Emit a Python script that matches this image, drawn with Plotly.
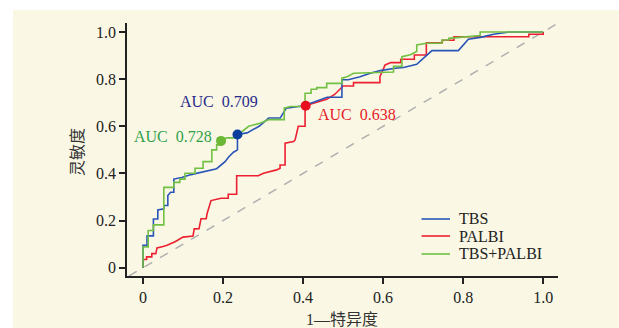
import plotly.graph_objects as go

# ---- data ----
tbs_fpr = [0, 0, 0.01, 0.01, 0.026, 0.026, 0.037, 0.037, 0.052, 0.052, 0.062, 0.062, 0.069, 0.077, 0.077,
           0.097, 0.12, 0.155, 0.184, 0.205, 0.214, 0.226, 0.234, 0.236, 0.236, 0.26, 0.29, 0.314, 0.343,
           0.358, 0.402, 0.432, 0.46, 0.497, 0.497, 0.513, 0.5425, 0.5675, 0.5925, 0.63, 0.651, 0.684,
           0.722, 0.788, 0.813, 0.843, 0.876, 0.915, 1.0]
tbs_tpr = [0, 0.095, 0.095, 0.135, 0.135, 0.207, 0.207, 0.245, 0.25, 0.264, 0.264, 0.306, 0.32, 0.32, 0.376,
           0.383, 0.395, 0.41, 0.42, 0.45, 0.47, 0.49, 0.5, 0.5, 0.565, 0.572, 0.6, 0.635, 0.635,
           0.677, 0.687, 0.705, 0.723, 0.723, 0.797, 0.797, 0.81, 0.825, 0.836, 0.846, 0.849, 0.863,
           0.921, 0.921, 0.969, 0.977, 0.99, 1.0, 1.0]

palbi_fpr = [0, 0, 0.009, 0.009, 0.022, 0.022, 0.032, 0.035, 0.05, 0.06, 0.08, 0.1, 0.125, 0.128, 0.14,
             0.145, 0.158, 0.16, 0.17, 0.195, 0.213, 0.213, 0.234, 0.234, 0.288, 0.301, 0.334, 0.3425,
             0.3425, 0.355, 0.355, 0.376, 0.38, 0.388, 0.405, 0.405, 0.432, 0.459, 0.479, 0.50, 0.526,
             0.526, 0.592, 0.592, 0.605, 0.619, 0.644, 0.644, 0.678, 0.678, 0.708, 0.708, 0.748, 0.748,
             0.777, 0.777, 0.964, 0.964, 1.0, 1.0]
palbi_tpr = [0, 0.035, 0.035, 0.046, 0.046, 0.06, 0.06, 0.084, 0.09, 0.095, 0.11, 0.13, 0.135, 0.165, 0.166,
             0.208, 0.208, 0.229, 0.285, 0.295, 0.295, 0.312, 0.312, 0.39, 0.39, 0.401, 0.415, 0.422,
             0.436, 0.436, 0.528, 0.535, 0.542, 0.6, 0.6, 0.687, 0.701, 0.715, 0.735, 0.771, 0.771,
             0.785, 0.785, 0.81, 0.86, 0.87, 0.87, 0.884, 0.884, 0.902, 0.902, 0.954, 0.954, 0.965,
             0.965, 0.98, 0.98, 0.99, 0.99, 1.0]

comb_fpr = [0, 0, 0.013, 0.013, 0.026, 0.026, 0.052, 0.052, 0.077, 0.077, 0.092, 0.092, 0.105, 0.105,
            0.13, 0.13, 0.15, 0.15, 0.172, 0.172, 0.184, 0.184, 0.197, 0.197, 0.21, 0.23, 0.235, 0.264,
            0.294, 0.314, 0.353, 0.353, 0.368, 0.405, 0.405, 0.42, 0.42, 0.434, 0.434, 0.459, 0.459,
            0.497, 0.497, 0.51, 0.526, 0.626, 0.626, 0.647, 0.647, 0.668, 0.684, 0.684, 0.709, 0.747,
            0.747, 0.764, 0.764, 0.8425, 0.8425, 1.0]
comb_tpr = [0, 0.088, 0.088, 0.158, 0.158, 0.182, 0.182, 0.341, 0.341, 0.362, 0.362, 0.376, 0.376, 0.401,
            0.401, 0.422, 0.422, 0.45, 0.45, 0.5, 0.5, 0.521, 0.521, 0.538, 0.551, 0.551, 0.56, 0.6,
            0.614, 0.628, 0.628, 0.677, 0.684, 0.684, 0.74, 0.74, 0.757, 0.757, 0.764, 0.764, 0.782,
            0.782, 0.804, 0.81, 0.825, 0.83, 0.854, 0.854, 0.895, 0.903, 0.917, 0.945, 0.952, 0.952,
            0.966, 0.966, 0.973, 0.985, 1.0, 1.0]

# optimal cut-off points
cut_x = [0.236, 0.4065, 0.195]
cut_y = [0.565, 0.687, 0.538]
auc_labels = ["AUC\u00a0\u00a00.709", "AUC\u00a0\u00a00.638", "AUC\u00a0\u00a00.728"]
auc_pos_x = [0.189, 0.534, 0.075]
auc_pos_y = [0.703, 0.648, 0.556]

series_names = ["TBS", "PALBI", "TBS+PALBI"]
line_colors = ["#2a55b8", "#ec2030", "#72c043"]
dot_colors = ["#0b3d9c", "#e8101e", "#6cb834"]
text_colors = ["#29298a", "#e41a26", "#2fa048"]

ref_x = [-0.035, 1.037]
ref_y = [-0.035, 1.037]

tick_vals = [0, 0.2, 0.4, 0.6, 0.8, 1.0]
tick_text = ["0", "0.2", "0.4", "0.6", "0.8", "1.0"]

SERIF = "Liberation Serif, Times New Roman, Noto Sans CJK SC, serif"
CREAM = "#faf8e5"

fig = go.Figure()
fig.add_trace(go.Scatter(x=ref_x, y=ref_y, mode="lines",
                         line=dict(color="#b0b0b0", width=1.5, dash="dash"),
                         hoverinfo="skip", showlegend=False))

curves = [(tbs_fpr, tbs_tpr), (palbi_fpr, palbi_tpr), (comb_fpr, comb_tpr)]
order = [1, 0, 2]
for i in order:
    fx, ty = curves[i]
    fig.add_trace(go.Scatter(x=fx, y=ty, mode="lines", name=series_names[i],
                             line=dict(color=line_colors[i], width=1.6), showlegend=False))
for i in range(3):
    fig.add_trace(go.Scatter(x=[cut_x[i]], y=[cut_y[i]], mode="markers",
                             marker=dict(color=dot_colors[i], size=10), showlegend=False))
    fig.add_annotation(x=auc_pos_x[i], y=auc_pos_y[i], xref="x", yref="y", text=auc_labels[i],
                       showarrow=False, font=dict(family=SERIF, size=16, color=text_colors[i]))

# manual legend
leg_y = [0.2253, 0.1581, 0.0870]
for i in range(3):
    fig.add_shape(type="line", xref="paper", yref="paper", x0=0.6833, x1=0.7494,
                  y0=leg_y[i], y1=leg_y[i], line=dict(color=line_colors[i], width=1.6))
    fig.add_annotation(x=0.7657, y=leg_y[i], xref="paper", yref="paper", text=series_names[i],
                       showarrow=False, xanchor="left", yanchor="middle",
                       font=dict(family=SERIF, size=16, color="#222"))

# cream background panel
fig.add_shape(type="rect", xref="paper", yref="paper", x0=-0.2645, x1=1.2, y0=-0.25, y1=1.051,
              fillcolor=CREAM, line=dict(width=0), layer="below")

# axis titles
fig.add_annotation(x=0.499, y=-0.172, xref="paper", yref="paper", text="1\u2014特异度", showarrow=False,
                   font=dict(family=SERIF, size=16, color="#333"), yanchor="middle")
fig.add_annotation(x=-0.116, y=0.49, xref="paper", yref="paper", text="灵敏度", showarrow=False,
                   textangle=-90, font=dict(family=SERIF, size=16, color="#333"), xanchor="center")

axis_common = dict(showline=True, linecolor="#222", linewidth=1.5, ticks="outside", ticklen=6,
                   tickwidth=1.5, tickcolor="#222", showgrid=False, zeroline=False,
                   tickvals=tick_vals, ticktext=tick_text,
                   tickfont=dict(family=SERIF, size=16, color="#222"))

fig.update_layout(
    width=619, height=328,
    margin=dict(l=127, r=61, t=23, b=52),
    paper_bgcolor="white", plot_bgcolor=CREAM,
    xaxis=dict(range=[-0.04, 1.037], **axis_common),
    yaxis=dict(range=[-0.035, 1.038], **axis_common),
    showlegend=False,
)

fig.write_html("out.html")
